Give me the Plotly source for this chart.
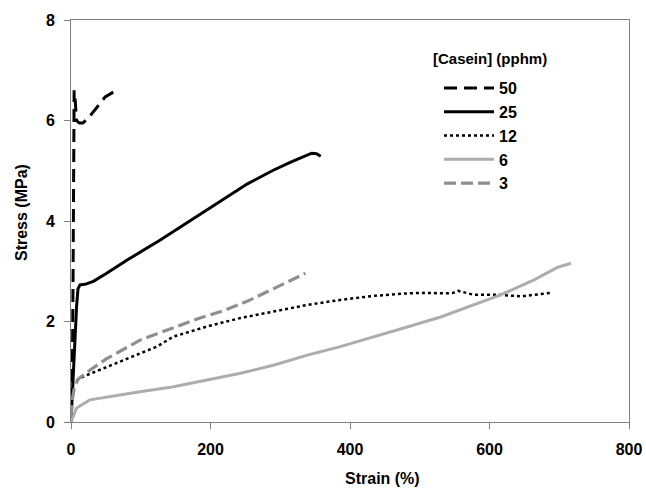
import plotly.graph_objects as go

# ---- data ----
strain_50 = [0, 2, 3, 4, 4, 4.5, 6, 8, 12, 17, 25, 34, 49, 60, 66]
stress_50 = [0, 1, 3, 5, 6.3, 6.6, 6.4, 6.0, 5.95, 5.95, 6.05, 6.2, 6.47, 6.56, 6.6]

strain_25 = [0, 1, 2, 4, 6, 8, 10, 13, 20, 32, 50, 80, 128, 157, 200, 230, 253, 275, 290, 315, 335, 345, 352, 358]
stress_25 = [0, 0.3, 0.6, 1.2, 1.7, 2.3, 2.65, 2.73, 2.74, 2.8, 2.95, 3.22, 3.62, 3.88, 4.28, 4.55, 4.74, 4.9, 5.01, 5.17, 5.3, 5.35, 5.34, 5.29]

strain_12 = [0, 3, 17, 52, 99, 123, 147, 195, 243, 290, 339, 386, 434, 482, 506, 540, 548, 555, 565, 578, 616, 645, 688]
stress_12 = [0.5, 0.78, 0.9, 1.1, 1.37, 1.5, 1.7, 1.9, 2.07, 2.19, 2.33, 2.43, 2.51, 2.56, 2.57, 2.56, 2.57, 2.61, 2.57, 2.53, 2.53, 2.5, 2.57]

strain_6 = [0, 1, 8, 27, 52, 99, 147, 195, 243, 290, 339, 386, 434, 482, 530, 578, 616, 664, 698, 717]
stress_6 = [0, 0.04, 0.28, 0.44, 0.5, 0.6, 0.7, 0.84, 0.97, 1.13, 1.33, 1.5, 1.69, 1.89, 2.09, 2.33, 2.53, 2.83, 3.08, 3.16]

strain_3 = [0, 2, 5, 10, 27, 50, 99, 150, 185, 220, 257, 290, 315, 336]
stress_3 = [0.1, 0.45, 0.7, 0.85, 1.03, 1.25, 1.63, 1.9, 2.07, 2.22, 2.43, 2.65, 2.82, 2.96]

x_ticks = [0, 200, 400, 600, 800]
y_ticks = [0, 2, 4, 6, 8]

FONT = "Liberation Sans, Arial, sans-serif"

W, H = 646, 488
PL, PR, PT, PB = 71, 629, 20, 422          # plot area in window pixels
PW, PH = PR - PL, PB - PT

fig = go.Figure()
series = [
    ("50", strain_50, stress_50, dict(color="black", width=3, dash="13px,7px")),
    ("25", strain_25, stress_25, dict(color="black", width=3)),
    ("12", strain_12, stress_12, dict(color="black", width=2.5, dash="dot")),
    ("6", strain_6, stress_6, dict(color="#adadad", width=3)),
    ("3", strain_3, stress_3, dict(color="#8f8f8f", width=3.2, dash="12px,5px")),
]
for name, xs, ys, line in series:
    fig.add_trace(go.Scatter(x=xs, y=ys, mode="lines", name=name, line=line))

axis_common = dict(
    showgrid=False, zeroline=False, showline=True, linecolor="#808080", linewidth=1,
    mirror=True, ticks="outside", tickcolor="#808080", tickwidth=1, automargin=False,
    tickfont=dict(family=FONT, size=16, color="black", weight="bold"),
)
fig.update_xaxes(range=[0, 800], tickvals=x_ticks, ticklen=6, ticklabelstandoff=7, **axis_common)
fig.update_yaxes(range=[0, 8], tickvals=y_ticks, ticklen=6, ticklabelstandoff=6, **axis_common)


def px_x(px):
    return (px - PL) / PW


def px_y(py):
    return (PB - py) / PH


fig.update_layout(
    width=W, height=H, autosize=False,
    margin=dict(l=PL, r=W - PR, t=PT, b=H - PB, autoexpand=False),
    paper_bgcolor="white", plot_bgcolor="white",
    font=dict(family=FONT, color="black"),
    showlegend=True,
    legend=dict(
        x=px_x(439), y=px_y(71), xanchor="left", yanchor="top",
        bgcolor="rgba(0,0,0,0)", borderwidth=0,
        itemwidth=50, tracegroupgap=0,
        font=dict(family=FONT, size=16, weight="bold"),
    ),
    annotations=[
        dict(text="[Casein] (pphm)", x=px_x(431), y=px_y(58), xref="paper", yref="paper",
             showarrow=False, xanchor="left", yanchor="middle",
             font=dict(family=FONT, size=15, weight="bold")),
        dict(text="Strain (%)", x=px_x(383), y=px_y(478), xref="paper", yref="paper",
             showarrow=False, xanchor="center", yanchor="middle",
             font=dict(family=FONT, size=16, weight="bold")),
        dict(text="Stress (MPa)", x=px_x(21), y=px_y(213), xref="paper", yref="paper",
             showarrow=False, xanchor="center", yanchor="middle", textangle=-90,
             font=dict(family=FONT, size=16, weight="bold")),
    ],
)

# remove the default page margin so the figure sits at the window's top-left corner
fig.write_html(
    "out.html",
    config={"displayModeBar": False, "responsive": False},
    post_script="document.body.style.margin='0px';document.documentElement.style.overflow='hidden';",
)
